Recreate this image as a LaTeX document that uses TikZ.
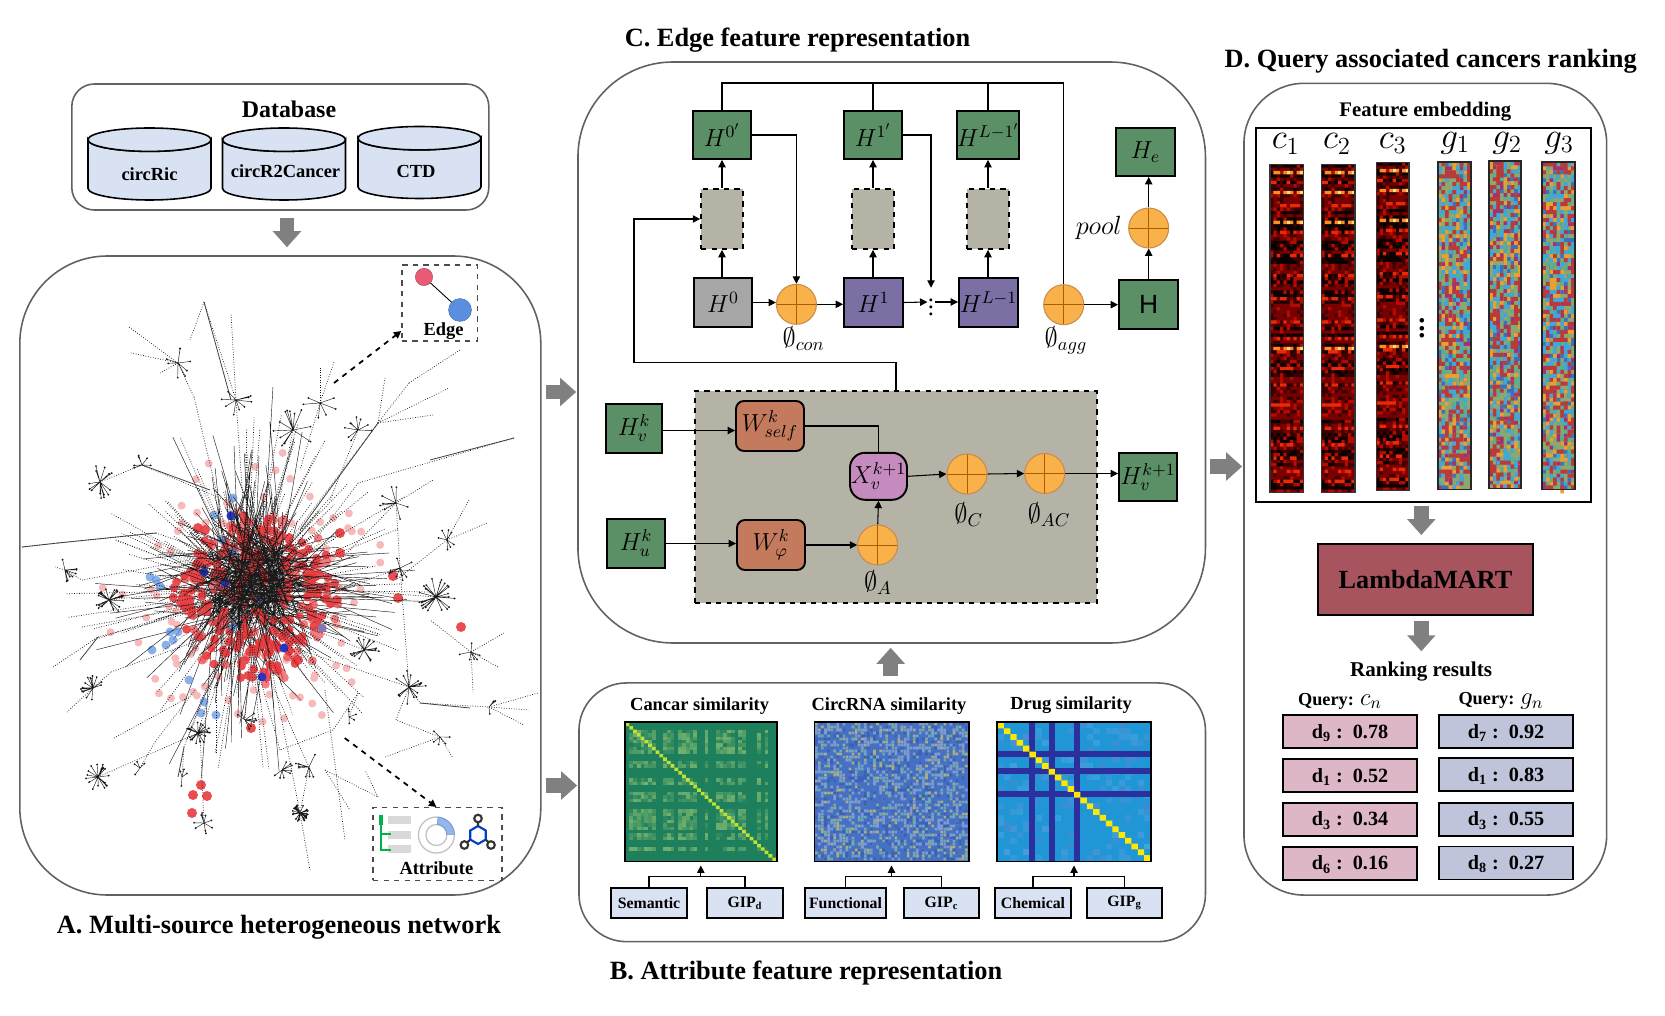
\RequirePackage{fix-cm}
\documentclass[tikz,border=0pt]{standalone}
\usepackage{fontspec}
\setmainfont{Liberation Serif}
\newfontfamily\arialfont{Liberation Sans}
\usetikzlibrary{calc,positioning,shapes.geometric,arrows.meta}
\definecolor{boxgreen}{HTML}{5B8F66}
\definecolor{boxgrey}{HTML}{A6A6A6}
\definecolor{boxpurple}{HTML}{7B6FA3}
\definecolor{boxtan}{HTML}{B5B3A5}
\definecolor{boxbrown}{HTML}{C47A5C}
\definecolor{boxpink}{HTML}{C58BBF}
\definecolor{boxlight}{HTML}{D8E2F2}
\definecolor{boxrank}{HTML}{DDB6C8}
\definecolor{boxquery}{HTML}{BFC4DB}
\definecolor{boxlambda}{HTML}{A8545E}
\definecolor{sumorange}{HTML}{F9B24A}
\definecolor{netred}{HTML}{E8383C}
\definecolor{netrose}{HTML}{E85A75}
\definecolor{netblue}{HTML}{5A8FE0}
\definecolor{netdark}{HTML}{2A35C8}
\definecolor{cr0}{HTML}{0A0000}
\definecolor{cr1}{HTML}{3C0000}
\definecolor{cr2}{HTML}{780000}
\definecolor{cr3}{HTML}{B40A00}
\definecolor{cr4}{HTML}{E82A08}
\definecolor{cr5}{HTML}{FF8A20}
\definecolor{cr6}{HTML}{FFDC70}
\definecolor{cg0}{HTML}{3B6FC0}
\definecolor{cg1}{HTML}{A8306A}
\definecolor{cg2}{HTML}{5CAE8C}
\definecolor{cg3}{HTML}{E8A030}
\definecolor{cg4}{HTML}{40A8D8}
\definecolor{cg5}{HTML}{8AA870}
\definecolor{cg6}{HTML}{B83A3A}
\definecolor{ch0}{HTML}{A8AE80}
\definecolor{ch1}{HTML}{6FA8B0}
\definecolor{ch2}{HTML}{3A60B8}
\definecolor{ch3}{HTML}{7F9AD0}
\definecolor{hmgreen}{HTML}{1E7F5C}
\definecolor{hmblue}{HTML}{4570C4}
\definecolor{hmlight}{HTML}{A9D27A}
\definecolor{drugbase}{HTML}{2196D6}
\definecolor{drugband}{HTML}{2C2F9E}
\begin{document}
\begin{tikzpicture}[
	x=0.02cm, y=-0.02cm,
	>={Triangle[length=4.2pt,width=4.2pt]},
	line width=0.6pt,
	sized/.style 2 args={minimum width=#1*0.02cm, minimum height=#2*0.02cm, inner sep=0pt, align=center},
	panel/.style={draw=black!62, line width=0.9pt},
	headline/.style={font=\bfseries\fontsize{15}{18}\selectfont},
	subhead/.style={font=\bfseries\fontsize{10.5}{12}\selectfont},
	mathlab/.style={font=\fontsize{14}{16}\selectfont},
	sumlab/.style={font=\fontsize{15}{17}\selectfont},
	solid box/.style={draw, line width=1.1pt, fill=#1},
	feature/.style={solid box=boxgreen, sized={58}{48}, mathlab},
	middlebox/.style={draw, dashed, line width=1pt, fill=boxtan, sized={42}{60}},
	weightbox/.style={solid box=boxbrown, sized={68}{50}, rounded corners=0.16cm, mathlab},
	sumcircle/.style={circle, draw=orange!70!black!70, fill=sumorange, minimum size=0.8cm, inner sep=0pt,
		path picture={\draw[orange!70!black, line width=0.3pt]
			(path picture bounding box.north) -- (path picture bounding box.south)
			(path picture bounding box.west) -- (path picture bounding box.east);}},
	dbdrum/.style={draw, line width=0.9pt, fill=boxlight},
	source/.style={solid box=boxlight, sized={#1}{30}, font=\bfseries\fontsize{9}{11}\selectfont},
	rankcell/.style={solid box=#1, sized={134}{33}, text height=10pt, text depth=2.5pt, font=\bfseries\fontsize{11.5}{13}\selectfont},
	bigarrow/.style={draw=black!50, line width=0.29cm, -{Triangle[length=0.32cm,width=0.55cm]}},
	netline/.style={black!90, line width=0.25pt},
	netdash/.style={black!90, line width=0.42pt, densely dotted},
	netsolid/.style={black!75, line width=0.45pt},
	]
	\useasboundingbox (0,0) rectangle (1665,1016);

	% multi-source network
	\node[panel, sized={521}{639}, rounded corners=1.75cm] at (280.3,575.5) (neta) {};
	\node[headline] at (279,927.5) (titlea) {A. Multi-source heterogeneous network};

	% database
	\node[panel, sized={417}{126}, rounded corners=0.45cm] at (280.3,147) (dbbox) {};
	\node[font=\bfseries\fontsize{13.6}{16}\selectfont] at (289,109.5) (dbtitle) {Database};
	\foreach \cx/\cy in {149.5/164,284/164,419.5/162.5}{
		\draw[dbdrum] (\cx-61.5,\cy-24.3) -- ++(0,48.6) arc[start angle=180, end angle=0, x radius=61.5, y radius=11.7] -- ++(0,-48.6) arc[start angle=0, end angle=180, x radius=61.5, y radius=11.7] -- cycle;
		\draw[dbdrum] (\cx,\cy-24.3) ellipse (61.5 and 11.7);
	}
	\node[subhead] at (149.5,174) (labric) {circRic};
	\node[subhead] at (285.5,171) (labcan) {circR2Cancer};
	\node[subhead] at (416,171) (labctd) {CTD};
	\coordinate (arrdb) at (287,0);
	\draw[bigarrow, shorten <=7*0.02cm, shorten >=8*0.02cm] (dbbox.south -| arrdb) -- (neta.north -| arrdb);

	% network, core edges
	\pgfmathsetseed{42}
	\draw[netline] \foreach \i in {1,...,300}{
		({250+rnd*70-35},{585+rnd*70-35}) -- ++({rnd*360}:{25+rnd*rnd*185})
	};
	% network, red and blue nodes
	\fill[netred, opacity=0.35] \foreach \i in {1,...,80}{
		(250,595) ++({rnd*360}:{70+rnd*80}) circle (4)
	};
	\fill[netred, opacity=0.65] \foreach \i in {1,...,130}{
		(255,598) ++({rnd*360}:{sqrt(rnd)*88}) circle (4.4)
	};
	\fill[netred, opacity=0.9] \foreach \i in {1,...,190}{
		(255,598) ++({rnd*360}:{sqrt(rnd)*84}) circle (4.4)
	};
	\foreach \px/\py in {269/652,262/645,276/645,255/650,285/635,198/528,205/530,393/576,461/627,251/728,340/533,193/795,207/796,201/785,192/813,398/598,340/553,300/640,298/660}
		\fill[netred, opacity=0.9] (\px,\py) circle (5);
	\foreach \px/\py in {233/498,214/515,231/515,222/540,233/552,189/680,204/702,216/715,201/713,322/628,258/600,233/627,173/640,166/645,178/632,170/632,152/650,156/580,160/586,150/577}
		\fill[netblue, opacity=0.7] (\px,\py) circle (4.5);
	\foreach \px/\py in {225/583,204/572,284/648,262/677,231/516}
		\fill[netdark] (\px,\py) circle (4.5);

	% network, top edges
	\draw[netline] \foreach \i in {1,...,190}{
		({255+rnd*60-30},{575+rnd*60-30}) -- ++({rnd*360}:{20+rnd*rnd*170})
	};
	\draw[netdash] \foreach \i in {1,...,90}{
		(247,590) -- ++({rnd*360}:{70+rnd*120})
	};

	% network, branches
	\foreach \ax/\ay/\bx/\by in {
		178/363/129/327,178/363/131/353,178/363/160/373,178/363/194/397,194/397/228/540,
		236/400/204/302,236/400/231/313,236/400/247/560,204/302/190/340,
		293/430/262/590,320/403/300/470,320/403/320/368,320/403/334/362,
		378/423/275/560,378/423/385/378,378/423/409/383,378/423/449/388,378/423/433/415,409/383/460/350,
		358/430/330/500,514/438/358/483,358/483/300/560,396/503/433/480,396/503/340/560,396/503/400/568,
		447/540/487/523,447/540/469/500,447/540/396/580,100/482/142/465,142/465/225/500,
		22/547/58/543,58/543/156/533,156/533/235/560,109/600/200/590,436/597/345/590,400/568/340/590,
		364/650/290/620,409/687/400/568,409/687/300/650,420/703/489/707,489/707/538/693,489/707/529/710,489/707/524/725,
		409/687/420/703,471/652/504/633,471/652/498/667,471/652/473/692,471/652/430/620,93/688/67/712,93/688/111/672,
		111/672/200/640,98/777/198/733,198/733/225/640,204/823/200/733,300/813/270/660,300/813/309/767,245/720/250/650,
		182/777/184/747,184/747/215/665,140/768/155/742,155/742/195/690,349/717/358/693,358/693/333/730,333/730/280/750,
		280/750/255/660,309/767/270/680,325/770/378/797,378/797/365/770,440/737/453/758,440/737/385/757,440/737/396/720,396/720/409/687,
		216/753/216/683,53/667/98/637,98/637/200/610,82/627/205/605,114/738/189/697,65/570/82/580,82/580/190/560,65/570/55/567,
		300/813/310/870,325/690/345/840,325/770/350/810}
		\draw[netdash] (\ax,\ay) -- (\bx,\by);
	\foreach \ax/\ay/\bx/\by in {378/423/300/530,142/465/210/490,58/543/156/533,514/438/430/460,420/703/470/708,204/302/231/400,
		22/547/58/543,98/637/80/660,184/747/178/777}
		\draw[netsolid] (\ax,\ay) -- (\bx,\by);

	% network, small stars
	\foreach \hx/\hy/\hr/\hn in {
		178/363/16/8,236/400/16/10,293/430/22/12,320/403/18/6,358/430/14/9,100/482/17/14,142/465/12/6,
		396/503/18/8,447/540/12/7,109/600/15/22,436/597/20/24,400/568/13/9,364/650/15/16,409/687/17/16,
		93/688/13/16,98/777/14/20,198/733/12/20,204/823/12/10,300/813/9/34,245/720/12/9,65/570/12/8,
		182/777/9/4,140/768/9/4,349/717/8/5,309/767/14/8,440/737/10/5,471/652/12/6,489/707/10/4,282/770/12/8}{
		\draw[netline] \foreach \k in {1,...,\hn}{
			(\hx,\hy) -- ++({rnd*360}:{\hr*(0.6+rnd*0.4)}) circle (0.7)
		};
	}

	% edge and attribute
	\node[draw=black!70, dashed, line width=0.8pt, sized={75.5}{76}] at (439.7,303) (edgebox) {};
	\draw[line width=0.5pt] (424,277) -- (460,310);
	\filldraw[fill=netrose, draw=netrose!70!black, line width=0.2pt] (424,277) circle (8.7);
	\filldraw[fill=netblue, draw=netblue!70!black, line width=0.2pt] (460,310) circle (11.5);
	\node[subhead] at (443.6,331) (edgelab) {Edge};
	\coordinate (edgefrom) at (334,383);
	\draw[->, dashed, line width=1pt] (edgefrom) -- (edgebox.west |- edgelab.center);

	\node[draw=black!70, dashed, line width=0.8pt, sized={129}{72.5}] at (437.5,844) (attrbox) {};
	\node[subhead] at (436.4,868.5) (attrlab) {Attribute};
	\coordinate (attrfrom) at (344.7,738);
	\draw[->, dashed, line width=1pt] (attrfrom) -- (attrlab |- attrbox.north);
	\foreach \yb in {816,831,845}
		\fill[black!15] (388,\yb) rectangle (411,\yb+8);
	\draw[line width=1.2pt, teal!60!green] (381,816) -- (381,850) -- (391,850) (381,834) -- (391,834);
	\fill[teal!60!green] (379,815) rectangle (383,825);
	\draw[black!25, line width=0.7pt] (436.4,835) circle (18) (436.4,835) circle (10.5);
	\filldraw[fill=netblue!65, draw=netblue, line width=0.3pt] (436.4,835) ++(-85:18) arc[start angle=-85, end angle=-2, radius=18] -- ++(-7.5,0) arc[start angle=-2, end angle=-85, radius=10.5] -- cycle;
	\draw[blue!70!cyan!80!black, line width=1.2pt] (478,835) +(-90:9) -- +(-30:9) -- +(30:9) -- +(90:9) -- +(150:9) -- +(210:9) -- cycle;
	\draw[black!80, line width=1.2pt] (478,826) -- (478,822) (470,840) -- (467.5,842) (486,840) -- (488.5,842);
	\draw[black!80, line width=1.2pt] (478,818.5) circle (3.8) (464.4,845) circle (3.8) (491,845) circle (3.8);

	\coordinate (arrac) at (0,392);
	\coordinate (arrab) at (0,785.5);
	\coordinate (arrcd) at (0,466.5);
	\coordinate (arrbc) at (890.7,0);

	% edge feature
	\node[panel, sized={627.5}{581}, rounded corners=1.9cm] at (891.7,352.5) (edgec) {};
	\node[headline] at (797.5,40) (titlec) {C. Edge feature representation};
	\draw[bigarrow, shorten <=4*0.02cm, shorten >=1*0.02cm] (neta.east |- arrac) -- (edgec.west |- arrac);

	\node[draw, dashed, line width=1pt, fill=boxtan, sized={402}{212}] at (896,497) (reactor) {};
	% layers
	\node[feature] at (722,135) (h0p) {$H^{0'}$};
	\node[feature] at (873,135) (h1p) {$H^{1'}$};
	\node[feature] at (988,135) (hlp) {$H^{L-1'}$};
	\node[middlebox] at (722,219) (mid0) {};
	\node[middlebox] at (873,219) (mid1) {};
	\node[middlebox] at (988,219) (midl) {};
	\node[solid box=boxgrey, sized={58}{49}, mathlab] at (723,302.5) (h0) {$H^0$};
	\node[solid box=boxpurple, sized={59}{49}, mathlab] at (873.5,302.5) (h1) {$H^1$};
	\node[solid box=boxpurple, sized={59}{49}, mathlab] at (988.5,302.5) (hl) {$H^{L-1}$};
	\node[sumcircle] at (796.4,304.3) (con) {};
	\node[sumcircle] at (1063.7,304.7) (agg) {};
	\node[inner sep=0pt, font=\fontsize{14}{16}\selectfont] at (931,302) (gap) {$\vdots$};
	\node[feature, sized={59}{49}, font=\arialfont\fontsize{15}{18}\selectfont] at (1148.5,304.5) (hh) {H};
	\node[sumcircle] at (1148.7,228) (pool) {};
	\node[feature, sized={59}{48}] at (1145.5,152) (he) {$H_e$};
	\node[sumlab, left=0pt of pool] (poollab) {$pool$};
	\node[sumlab] at (803.6,339) (conlab) {$\emptyset_{con}$};
	\node[sumlab] at (1066,340) (agglab) {$\emptyset_{agg}$};

	\coordinate (topline) at (0,83);
	\draw (h0p.north) |- (agg.north |- topline) -- (agg.north);
	\draw (h1p.north) -- (h1p.north |- topline);
	\draw (hlp.north) -- (hlp.north |- topline);
	\draw[->] (h0p.east) -| (con.north);
	\draw[->] (h1p.east) -| (gap.north);
	\draw[->] (mid0.north) -- (h0p.south);
	\draw[->] (mid1.north) -- (h1p.south);
	\draw[->] (midl.north) -- (hlp.south);
	\draw[->] (h0.north -| mid0.south) -- (mid0.south);
	\draw[->] (h1.north -| mid1.south) -- (mid1.south);
	\draw[->] (hl.north -| midl.south) -- (midl.south);
	\draw[->] (h0.east) -- (h0.east -| con.west);
	\draw[->] (con.east) -- (con.east -| h1.west);
	\draw[->] (h1.east) -- (gap.west);
	\draw[->] (gap.east) -- (gap.east -| hl.west);
	\draw[->] (agg.east) -- (agg.east -| hh.west);
	\draw[->] (hh.north -| pool.south) -- (pool.south);
	\draw[->] (pool.north) -- (pool.north |- he.south);
	\coordinate (feedback) at (634,362.8);
	\draw[->] (reactor.north) |- (feedback) |- (mid0.west);

	% message passing
	\node[feature, sized={56}{49}] at (634,428.5) (hvk) {$H_v^k$};
	\node[feature, sized={58}{49}] at (636,543.5) (huk) {$H_u^k$};
	\node[weightbox] at (770,426) (wself) {$W_{self}^k$};
	\node[weightbox] at (771,545) (wphi) {$W_{\varphi}^k$};
	\node[solid box=boxpink, sized={57}{47}, rounded corners=0.3cm, mathlab] at (878.5,476.3) (xv) {$X_v^{k+1}$};
	\node[sumcircle] at (877.7,545) (suma) {};
	\node[sumcircle] at (967,474) (sumc) {};
	\node[sumcircle] at (1044.7,473.5) (sumac) {};
	\node[feature, sized={58}{48}] at (1148,477) (hvnext) {$H_v^{k+1}$};
	\node[sumlab] at (968.6,515) (clab) {$\emptyset_C$};
	\node[sumlab] at (1049,515) (aclab) {$\emptyset_{AC}$};
	\node[sumlab] at (878,583) (alab) {$\emptyset_A$};
	\draw[->] ($(hvk.east)+(0,2)$) -- ($(hvk.east -| wself.west)+(0,2)$);
	\draw[->] (huk.east) -- (huk.east -| wphi.west);
	\draw (wself.east) -| (xv.north);
	\draw[->] (wphi.east) -- (suma.west);
	\draw[->] (suma.north) -- (xv.south);
	\draw[->] (xv.east) -- (sumc.west);
	\draw[->] (sumc.east) -- (sumac.west);
	\draw[->] (sumac.east) -- (sumac.east -| hvnext.west);

	% attribute feature
	\node[panel, sized={626.5}{258.7}, rounded corners=0.95cm] at (892.2,812.3) (attrb) {};
	\node[headline] at (806,973) (titleb) {B. Attribute feature representation};
	\draw[bigarrow, shorten <=4*0.02cm, shorten >=1*0.02cm] (neta.east |- arrab) -- (attrb.west |- arrab);
	\draw[bigarrow, shorten <=6*0.02cm, shorten >=4*0.02cm] (attrb.north -| arrbc) -- (edgec.south -| arrbc);
	\node[subhead] at (699.6,706) (simcan) {Cancar similarity};
	\node[subhead] at (889,706) (simcir) {CircRNA similarity};
	\node[subhead] at (1071,705) (simdrg) {Drug similarity};

	% cancer heat map
	\node[fill=hmgreen, sized={150.4}{138.3}] at (700.8,791.8) (hmcan) {};
	\foreach \rw in {2,3,4,5,6,7,8,11,12,16,17,20,21,22,25,26,27,28,29,30,32,33,36}{
		\foreach \cl in {1,2,3,4,5,6,7,10,11,12,14,15,16,17,18,21,24,25,26,27,28,30,31,35,37}{
			\pgfmathsetmacro\op{rnd*0.6}
			\fill[hmlight, opacity=\op] (625.6+\cl*3.76,722.7+\rw*3.46) rectangle ++(3.76,3.46);
		}
	}
	\fill[yellow!70!green!85!white] \foreach \k in {0,...,39}{
		(625.6+\k*3.76,722.7+\k*3.46) rectangle ++(3.76,3.46)
	};
	\draw[line width=1.1pt] (hmcan.south west) rectangle (hmcan.north east);

	% circrna heat map
	\node[fill=hmblue, sized={153}{138.3}] at (891.5,791.8) (hmcir) {};
	\foreach \cc in {0,1,2,3}{
		\fill[ch\cc] \foreach \k in {1,...,480}{
			({815+int(rnd*50)*3.06},{722.7+int(rnd*46)*3}) rectangle ++(2.6,2.6)
		};
	}
	\draw[line width=1.1pt] (hmcir.south west) rectangle (hmcir.north east);

	% drug heat map
	\node[fill=drugbase, sized={152.8}{138.3}] at (1074,791.8) (hmdrg) {};
	\foreach \k in {1,...,170}{
		\pgfmathsetmacro\mx{40+rnd*40}
		\fill[cyan!\mx!blue!70!white, opacity=0.45] ({997.6+int(rnd*24)*6.37},{722.7+int(rnd*24)*5.76}) rectangle ++(6.37,5.76);
	}
	\foreach \bx in {1028.6,1048.7,1073.9}
		\fill[drugband] (\bx,722.7) rectangle ++(6.37,138.3);
	\foreach \by in {751,768,791}
		\fill[drugband] (997.6,\by) rectangle ++(152.8,5.76);
	\fill[yellow!90!orange] \foreach \k in {0,...,23}{
		(997.6+\k*6.37,722.7+\k*5.76) rectangle ++(6.37,5.76)
	};
	\draw[line width=1.1pt] (hmdrg.south west) rectangle (hmdrg.north east);

	% sources
	\coordinate (buscan) at (0,876.7);
	\node[source=76] at (649,903) (semantic) {Semantic};
	\node[source=76] at (745,903) (gipd) {GIP\textsubscript{d}};
	\node[source=81] at (845.5,903) (functional) {Functional};
	\node[source=75] at (941.5,903) (gipc) {GIP\textsubscript{c}};
	\node[source=76] at (1033,903) (chemical) {Chemical};
	\node[source=75] at (1124.5,903) (gipg) {GIP\textsubscript{g}};
	\foreach \srca/\srcb/\hm in {semantic/gipd/hmcan,functional/gipc/hmcir,chemical/gipg/hmdrg}{
		\draw (\srca.north) |- (\srcb.north |- buscan) -- (\srcb.north);
		\draw[->, shorten >=4*0.02cm] (\hm.south |- buscan) -- (\hm.south);
	}

	% ranking
	\node[panel, sized={362.7}{811.7}, rounded corners=1.2cm] at (1425.3,489.2) (rankd) {};
	\node[headline] at (1430.7,61.5) (titled) {D. Query associated cancers ranking};
	\draw[bigarrow, shorten <=4*0.02cm, shorten >=1*0.02cm] (edgec.east |- arrcd) -- (rankd.west |- arrcd);
	\node[font=\bfseries\fontsize{11.8}{14}\selectfont] at (1425.3,111.3) (embedlab) {Feature embedding};
	\node[draw, line width=1.1pt, sized={335.3}{374}] at (1423.3,314.7) (embedbox) {};
	\foreach \emb/\ex/\ey in {c_1/1285.7/144,c_2/1337/144,c_3/1392.7/143.7,g_1/1455/143,g_2/1507/143,g_3/1559/143}
		\node[font=\fontsize{20}{23}\selectfont] at (\ex,\ey) {$\emb$};

	% strips c
	\foreach \sx/\sy/\sw in {1270/164.3/33.3,1321.3/164.3/33.4,1376.3/162.3/32.4}{
		\pgfmathsetseed{311}
		\fill[cr2] (\sx,\sy) rectangle ++(\sw,328.4);
		\fill[cr0] \foreach \k in {1,...,55}{
			({\sx},{\sy+int(rnd*99)*3.32}) rectangle ++(\sw,3.32)
		};
		\fill[cr1] \foreach \k in {1,...,400}{
			({\sx+int(rnd*10)*\sw/10},{\sy+int(rnd*99)*3.32}) rectangle ++(\sw/10,3.32)
		};
		\fill[cr3] \foreach \k in {1,...,200}{
			({\sx+int(rnd*10)*\sw/10},{\sy+int(rnd*99)*3.32}) rectangle ++(\sw/10,3.32)
		};
		\fill[cr4] \foreach \rw in {5,12,20,27,33,40,47,52,56,61,66,72,79,84,88,92,95}{
			\foreach \k in {1,...,6}{
				({\sx+int(rnd*10)*\sw/10},{\sy+\rw*3.32}) rectangle ++(\sw/10,3.32)
			}
		};
		\foreach \rw in {2,8,17,55}{
			\fill[cr5] \foreach \cl in {1,2,4,6,8}{
				(\sx+\cl*\sw/10,\sy+\rw*3.32) rectangle ++(\sw/10,3.32)
			};
			\fill[cr6] \foreach \cl in {5,9}{
				(\sx+\cl*\sw/10,\sy+\rw*3.32) rectangle ++(\sw/10,3.32)
			};
		}
		\draw[line width=0.9pt, black!80] (\sx,\sy) rectangle ++(\sw,328.4);
	}

	% strips g
	\pgfmathsetseed{97}
	\foreach \sx/\sy/\sw in {1437.7/162.3/33,1489.3/161.3/32,1542.3/162.3/32.4}{
		\fill[cg5] (\sx,\sy) rectangle ++(\sw,327.3);
		\foreach \cc in {0,1,2,3,4,6}{
			\fill[cg\cc] \foreach \k in {1,...,190}{
				({\sx+int(rnd*9)*\sw/9},{\sy+int(rnd*82)*3.99}) rectangle ++(\sw/9,3.99)
			};
		}
		\draw[line width=1pt, black!85] (\sx,\sy) rectangle ++(\sw,327.3);
	}
	\node[font=\fontsize{22}{6}\selectfont, inner sep=0pt] at (1422.3,323) (stripgap) {$\vdots$};

	\node[solid box=boxlambda, sized={215.6}{71.3}, font=\bfseries\fontsize{14.9}{18}\selectfont] at (1425.5,579.7) (lambda) {LambdaMART};
	\coordinate (arrlm) at (1421.3,0);
	\draw[bigarrow, shorten <=3*0.02cm, shorten >=8*0.02cm] (embedbox.south -| arrlm) -- (lambda.north -| arrlm);
	\node[font=\bfseries\fontsize{12}{14}\selectfont] at (1421,671.3) (ranklab) {Ranking results};
	\draw[bigarrow, shorten <=5*0.02cm, shorten >=4*0.02cm] (lambda.south -| arrlm) -- (ranklab.north -| arrlm);
	\node[font=\bfseries\fontsize{10.4}{12}\selectfont] at (1340,701) (querya) {Query: {\mdseries\fontsize{14}{14}\selectfont$c_n$}};
	\node[font=\bfseries\fontsize{10.4}{12}\selectfont] at (1501,701) (queryb) {Query: {\mdseries\fontsize{14}{14}\selectfont$g_n$}};
	\foreach \nm/\ry/\lab in {ra/731.7/d\textsubscript{9} :\enspace 0.78,rb/775.7/d\textsubscript{1} :\enspace 0.52,rc/819.4/d\textsubscript{3} :\enspace 0.34,rd/863.4/d\textsubscript{6} :\enspace 0.16}
		\node[rankcell=boxrank] at (1350,\ry) (\nm) {\lab};
	\foreach \nm/\ry/\lab in {qa/731.7/d\textsubscript{7} :\enspace 0.92,qb/774.7/d\textsubscript{1} :\enspace 0.83,qc/819.4/d\textsubscript{3} :\enspace 0.55,qd/863/d\textsubscript{8} :\enspace 0.27}
		\node[rankcell=boxquery] at (1506,\ry) (\nm) {\lab};
\end{tikzpicture}
\end{document}
